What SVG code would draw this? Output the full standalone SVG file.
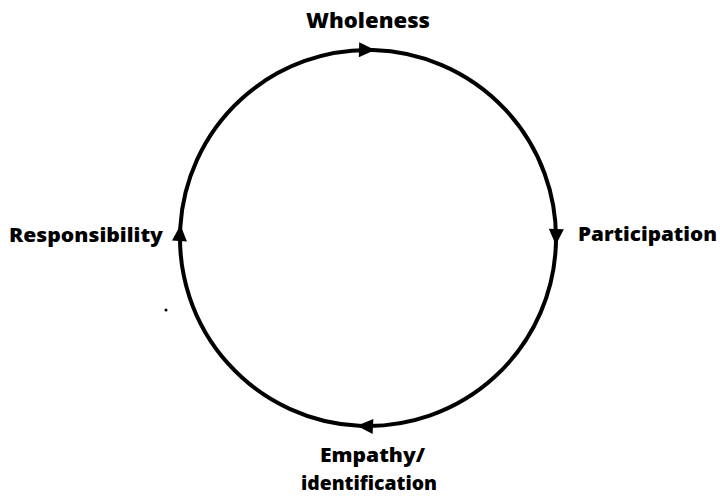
<svg xmlns="http://www.w3.org/2000/svg" width="720" height="498" viewBox="0 0 720 498">
<style>
.lbl{font-family:"Open Sans","Liberation Sans",sans-serif;font-weight:800;fill:#000;}
.arc{fill:none;stroke:#000;stroke-width:4;}
</style>
<defs>
<marker id="ah" markerUnits="userSpaceOnUse" markerWidth="22" markerHeight="22" viewBox="-18 -11 22 22" refX="0" refY="0" orient="auto">
<path d="M2,0 L-14,-7.5 L-14,7.5 Z" fill="#000"/>
</marker>
</defs>
<rect width="720" height="498" fill="#fff"/>
<g id="connectors">
<path class="arc" d="M180.32,227 A188 188 0 0 1 373,50.07" marker-end="url(#ah)"/>
<path class="arc" d="M373,50.07 A188 188 0 0 1 555.93,243" marker-end="url(#ah)"/>
<path class="arc" d="M555.93,243 A188 188 0 0 1 359,425.78" marker-end="url(#ah)"/>
<path class="arc" d="M359,425.78 A188 188 0 0 1 180.32,227" marker-end="url(#ah)"/>
</g>
<g id="wholeness"><text class="lbl" x="306" y="28" font-size="21" textLength="124" lengthAdjust="spacingAndGlyphs">Wholeness</text></g>
<g id="participation"><text class="lbl" x="578" y="241" font-size="20" textLength="139" lengthAdjust="spacingAndGlyphs">Participation</text></g>
<g id="responsibility"><text class="lbl" x="9" y="242" font-size="20" textLength="154" lengthAdjust="spacingAndGlyphs">Responsibility</text></g>
<g id="empathy">
<text class="lbl" x="320" y="462" font-size="20" textLength="105" lengthAdjust="spacingAndGlyphs">Empathy/</text>
<text class="lbl" x="301" y="490" font-size="20" textLength="136" lengthAdjust="spacingAndGlyphs">identification</text>
</g>
<circle cx="166" cy="310" r="1.5" fill="#000"/>
</svg>
